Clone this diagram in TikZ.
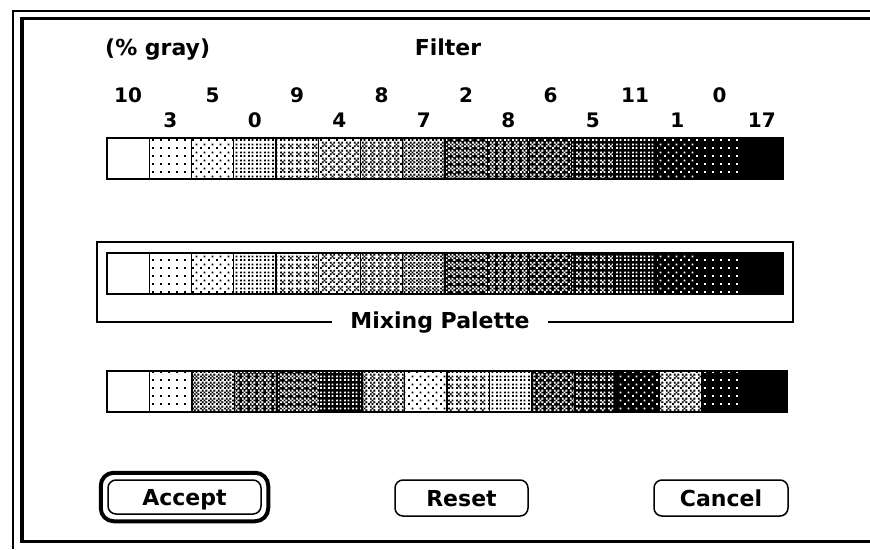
\documentclass[tikz,border=0pt]{standalone}
\usepackage{fontspec}
\setmainfont{DejaVu Sans}
\usetikzlibrary{patterns}
% one "screen pixel" of the patterns
\newcommand\mpx[2]{\pgfpathrectangle{\pgfpoint{#1*2pt}{#2*2pt}}{\pgfpoint{2pt}{2pt}}}
\newcommand\defpat[2]{\pgfdeclarepatternformonly{#1}{\pgfpointorigin}{\pgfpoint{8pt}{8pt}}{\pgfpoint{8pt}{8pt}}{#2\pgfusepath{fill}}}
% pixel sets (black pixels for light levels, white pixels for dark levels)
\defpat{P1}{\mpx00}
\defpat{P2}{\mpx00\mpx22}
\defpat{P3}{\mpx00\mpx20\mpx02\mpx22}
\defpat{P4}{\mpx00\mpx20\mpx02\mpx22\mpx11}
\defpat{P5}{\mpx00\mpx11\mpx22\mpx33\mpx13\mpx31}
\defpat{P6}{\mpx00\mpx11\mpx22\mpx33\mpx13\mpx31\mpx20}
\defpat{P7}{\mpx00\mpx20\mpx11\mpx31\mpx02\mpx22\mpx13\mpx33}
\defpat{Q8}{\mpx30\mpx01\mpx21\mpx12\mpx32\mpx03\mpx23}
% a row of swatches: #1 top y, #2 left x, #3 swatch width, #4 list of levels
\newcommand\swrow[4]{%
  \foreach \L [count=\i from 0] in {#4} {
    \pgfmathsetmacro\xa{#2+\i*#3}
    \pgfmathsetmacro\xb{#2+(\i+1)*#3}
    \pgfmathtruncatemacro\M{15-\L}
    \ifnum\L<8
      \fill[white] (\xa,#1) rectangle (\xb,#1+41);
      \ifnum\L>0 \fill[pattern=P\L, pattern color=black] (\xa,#1) rectangle (\xb,#1+41);\fi
    \else
      \fill[black] (\xa,#1) rectangle (\xb,#1+41);
      \ifnum\L=8 \fill[pattern=Q8, pattern color=white] (\xa,#1) rectangle (\xb,#1+41);
      \else\ifnum\L<15 \fill[pattern=P\M, pattern color=white] (\xa,#1) rectangle (\xb,#1+41);\fi\fi
    \fi
    \draw[sw] (\xa,#1) rectangle (\xb,#1+41);
  }
  \draw[line width=2pt] (#2,#1) rectangle (#2+16*#3,#1+41);
}
\begin{document}
\begin{tikzpicture}[x=1pt,y=-1pt,
  lbl/.style={font=\fontsize{22}{26}\selectfont\bfseries, inner sep=0pt},
  numlbl/.style={font=\fontsize{20}{24}\selectfont\bfseries, inner sep=0pt},
  btn/.style={draw, line width=1.5pt, rounded corners=8pt, lbl, inner sep=0pt,
              text height=16pt, text depth=0pt},
  sw/.style={line width=1.4pt}]
\fill[white] (0,0) rectangle (870,549);
\useasboundingbox (0,0) rectangle (870,549);
% window frame
\draw[line width=2pt] (870,10.5) -- (13.3,10.5) -- (13.3,549);
\draw[line width=3.5pt] (870,18.3) -- (22,18.3) -- (22,541.5) -- (870,541.5);
% titles
\node[lbl, anchor=base west] (gray) at (105,55) {(\% gray)};
\node[lbl, anchor=base] (filter) at (448,55) {Filter};
% numbers
\foreach \v [count=\k from 0] in {10,3,5,0,9,4,8,7,2,8,6,5,11,1,0,17} {
  \pgfmathsetmacro\cx{107+(\k+0.5)*42.25}
  \ifodd\k
    \node[numlbl, anchor=base] (num\k) at (\cx,127) {\v};
  \else
    \node[numlbl, anchor=base] (num\k) at (\cx,102) {\v};
  \fi
}
% row 1: filter
\swrow{138}{107}{42.25}{0,1,2,3,4,5,6,7,8,9,10,11,12,13,14,15}
% mixing palette
\draw[line width=1.5pt] (97,242) rectangle (793,322);
\swrow{252.5}{107}{42.25}{0,1,2,3,4,5,6,7,8,9,10,11,12,13,14,15}
\node[lbl, fill=white, inner xsep=18pt, inner ysep=2pt, anchor=base] (mix) at (440,328) {Mixing Palette};
% row 3
\swrow{371}{107}{42.5}{0,1,7,9,8,12,6,2,4,3,10,11,13,5,14,15}
% buttons
\node[btn, minimum width=153pt, minimum height=34pt] (accept) at (184.5,497) {Accept};
\draw[line width=4pt, rounded corners=13pt]
  ([shift={(-6.5,6.5)}]accept.south west) rectangle ([shift={(6.5,-6.5)}]accept.north east);
\node[btn, minimum width=133pt, minimum height=36pt] (reset) at (461.5,498) {Reset};
\node[btn, minimum width=134pt, minimum height=36pt] (cancel) at (721,498) {Cancel};
\end{tikzpicture}
\end{document}
